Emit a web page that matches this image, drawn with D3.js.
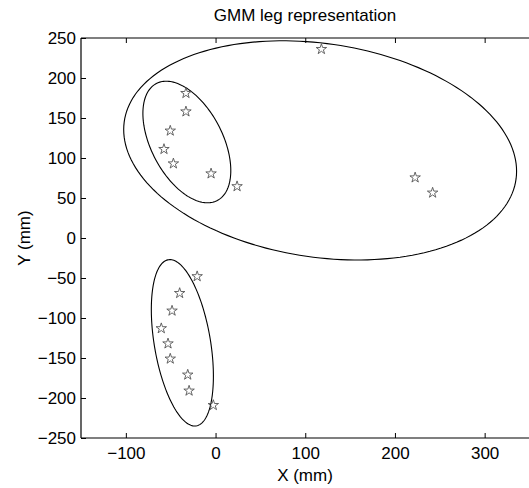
<!DOCTYPE html>
<html>
<head>
<meta charset="utf-8">
<script src="https://cdn.jsdelivr.net/npm/d3@7"></script>
<style>
  body { margin: 0; background: #fff; }
  text { font-family: "Liberation Sans", Arial, sans-serif; fill: #000; }
</style>
</head>
<body>
<div id="chart"></div>
<script>
// star markers (leg points), in mm
const pointX = [-33, -33, -50.5, -57.5, -47, -5, 24, 118, 222.5, 242,
                -20.5, -40, -48.5, -60.5, -53, -50.5, -31, -29.5, -2.5];
const pointY = [181, 158, 134, 111, 93, 80.5, 64.5, 236, 75.5, 56.5,
                -48, -69, -91, -113, -132, -151, -171, -191, -209];

// GMM component ellipses: centre, x / y half extent, correlation
const ellipseCx = [116.6, -32, -37];
const ellipseCy = [109.5, 120, -131];
const ellipseSx = [219, 49, 34.6];
const ellipseSy = [137, 76, 104];
const ellipseRho = [-0.19, -0.47, -0.4];

const xTicks = [-100, 0, 100, 200, 300];
const yTicks = [-250, -200, -150, -100, -50, 0, 50, 100, 150, 200, 250];

const width = 529, height = 488;
const fs = 17;

const svg = d3.select('#chart').append('svg')
    .attr('width', width).attr('height', height);

const x = d3.scaleLinear().domain([-150, 350]).range([81, 529.5]);
const y = d3.scaleLinear().domain([-250, 250]).range([438, 38]);

// frame (right edge falls just outside the picture)
const frame = svg.append('g').attr('stroke', '#000').attr('stroke-width', 1.2);
frame.append('line').attr('x1', x(-150)).attr('x2', x(350)).attr('y1', y(250)).attr('y2', y(250));
frame.append('line').attr('x1', x(-150)).attr('x2', x(350)).attr('y1', y(-250)).attr('y2', y(-250));
frame.append('line').attr('x1', x(-150)).attr('x2', x(-150)).attr('y1', y(250)).attr('y2', y(-250));

const styleAxis = (sel) => {
    sel.select('.domain').remove();
    sel.selectAll('line').attr('stroke', '#000');
    sel.selectAll('text').style('font-size', fs + 'px').attr('fill', '#000');
};
const fmt = (d) => d < 0 ? '\u2212' + Math.abs(d) : d;

svg.append('g').attr('transform', `translate(0,${y(-250)})`)
    .call(d3.axisBottom(x).tickValues(xTicks).tickSizeInner(-5).tickSizeOuter(0).tickPadding(9).tickFormat(fmt))
    .call(styleAxis);
svg.append('g').attr('transform', `translate(0,${y(250)})`)
    .call(d3.axisTop(x).tickValues(xTicks).tickSizeInner(-5).tickSizeOuter(0).tickFormat(''))
    .call(styleAxis);
svg.append('g').attr('transform', `translate(${x(-150)},0)`)
    .call(d3.axisLeft(y).tickValues(yTicks).tickSizeInner(-5).tickSizeOuter(0).tickPadding(5).tickFormat(fmt))
    .call(styleAxis);

// ellipses
const line = d3.line().x((d) => x(d[0])).y((d) => y(d[1]));
const ts = d3.range(0, 2 * Math.PI + 0.001, Math.PI / 90);
ellipseCx.forEach((cx, i) => {
    const s = Math.sqrt(1 - ellipseRho[i] * ellipseRho[i]);
    const pts = ts.map((t) => [
        cx + ellipseSx[i] * Math.cos(t),
        ellipseCy[i] + ellipseSy[i] * (ellipseRho[i] * Math.cos(t) + s * Math.sin(t))
    ]);
    svg.append('path').datum(pts)
        .attr('fill', 'none').attr('stroke', '#000').attr('stroke-width', 1.1)
        .attr('d', line);
});

// star markers
const star = d3.symbol().type(d3.symbolStar).size(34);
svg.append('g').selectAll('path')
    .data(pointX.map((px, i) => [px, pointY[i]]))
    .join('path')
    .attr('transform', (d) => `translate(${x(d[0])},${y(d[1])})`)
    .attr('d', star)
    .attr('fill', 'none').attr('stroke', '#555').attr('stroke-width', 0.9);

// labels
svg.append('text').attr('x', 305).attr('y', 21).attr('text-anchor', 'middle')
    .style('font-size', fs + 'px').text('GMM leg representation');
svg.append('text').attr('x', 305).attr('y', 481).attr('text-anchor', 'middle')
    .style('font-size', fs + 'px').text('X (mm)');
svg.append('text').attr('transform', 'translate(30,238) rotate(-90)').attr('text-anchor', 'middle')
    .style('font-size', fs + 'px').text('Y (mm)');
</script>
</body>
</html>
